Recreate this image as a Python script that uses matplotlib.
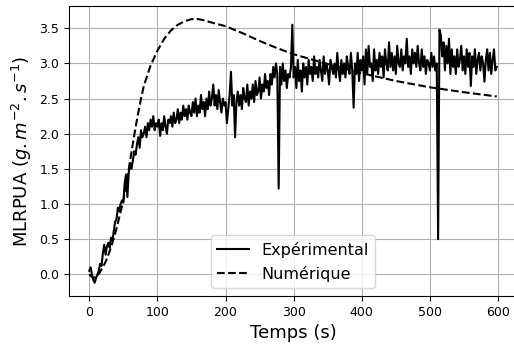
import numpy as np
import matplotlib
matplotlib.use("Agg")
import matplotlib.pyplot as plt

t_exp = np.arange(0, 600, 2)
mlr_exp = [
    0.05, 0.10, 0.00, -0.08, -0.12, -0.05, 0.00, 0.05, 0.15, 0.12,
    0.30, 0.42, 0.28, 0.40, 0.45, 0.38, 0.52, 0.48, 0.62, 0.75,
    0.78, 0.95, 0.90, 1.00, 1.05, 1.02, 1.30, 1.42, 1.10, 1.45,
    1.58, 1.50, 1.62, 1.75, 1.70, 1.85, 1.95, 1.80, 2.05, 1.95,
    2.00, 2.10, 1.95, 2.15, 2.05, 2.20, 2.10, 2.25, 2.05, 2.15,
    2.10, 2.20, 1.97, 2.15, 2.05, 2.25, 2.10, 2.00, 2.20, 2.15,
    2.25, 2.10, 2.30, 2.15, 2.20, 2.35, 2.15, 2.30, 2.20, 2.40,
    2.25, 2.35, 2.20, 2.40, 2.30, 2.25, 2.45, 2.30, 2.50, 2.25,
    2.40, 2.30, 2.55, 2.35, 2.45, 2.25, 2.50, 2.35, 2.60, 2.40,
    2.50, 2.70, 2.40, 2.55, 2.35, 2.62, 2.45, 2.30, 2.50, 2.40,
    2.45, 2.15, 2.35, 2.55, 2.88, 2.40, 2.55, 1.95, 2.45, 2.60,
    2.40, 2.55, 2.35, 2.65, 2.50, 2.45, 2.70, 2.40, 2.60, 2.50,
    2.70, 2.45, 2.75, 2.55, 2.60, 2.80, 2.50, 2.70, 2.60, 2.85,
    2.65, 2.75, 2.55, 2.85, 2.70, 2.95, 2.80, 3.00, 2.85, 1.22,
    2.95, 2.70, 3.00, 2.75, 2.90, 2.65, 2.85, 2.80, 2.95, 3.55,
    2.80, 2.95, 2.65, 3.05, 2.75, 2.90, 2.60, 3.00, 2.80, 2.95,
    2.70, 3.05, 2.85, 2.95, 2.75, 3.10, 2.85, 2.95, 2.80, 3.05,
    2.90, 2.75, 3.10, 2.85, 3.00, 2.90, 2.70, 3.05, 2.95, 2.85,
    3.00, 2.80, 3.15, 2.90, 2.75, 3.05, 2.85, 3.00, 2.80, 3.10,
    2.95, 2.85, 3.15, 2.90, 2.37, 3.00, 2.85, 3.15, 2.75, 3.05,
    2.90, 3.10, 2.70, 3.20, 2.85, 3.25, 2.95, 3.00, 2.75, 3.20,
    2.90, 3.05, 2.85, 3.15, 2.95, 3.10, 2.80, 3.20, 3.00, 2.90,
    3.30, 2.95, 3.15, 2.90, 3.10, 2.85, 3.25, 3.00, 2.95, 3.20,
    2.90, 3.10, 3.00, 3.35, 2.95, 3.10, 2.85, 3.20, 3.00, 3.15,
    2.95, 3.25, 3.00, 2.90, 3.20, 2.95, 3.10, 2.85, 3.05, 3.00,
    2.90, 3.15, 2.95, 3.10, 2.90, 3.00, 0.50, 3.48, 3.40, 3.10,
    3.30, 2.90, 3.25, 3.00, 3.35, 2.85, 3.20, 2.95, 3.10, 2.85,
    3.20, 2.95, 3.05, 3.25, 2.90, 3.10, 2.85, 3.20, 2.95, 3.15,
    2.68, 3.10, 2.95, 3.20, 2.85, 3.05, 3.15, 2.90, 3.10, 3.00,
    2.74, 3.05, 3.20, 2.90, 3.15, 2.85, 3.05, 3.20, 2.90, 2.95,
]

# Numerical MLRPUA
t_num = [0, 5, 10, 15, 20, 25, 30, 35, 40, 45, 50, 55, 60, 65, 70, 75, 80,
         90, 100, 110, 120, 130, 140, 150, 160, 170, 180, 200, 225, 250,
         275, 300, 350, 400, 450, 500, 550, 598]
mlr_num = [0.0, -0.05, -0.04, 0.02, 0.10, 0.20, 0.33, 0.48, 0.65, 0.85,
           1.05, 1.32, 1.62, 1.92, 2.20, 2.45, 2.68, 2.97, 3.18, 3.35,
           3.47, 3.55, 3.60, 3.63, 3.63, 3.61, 3.58, 3.53, 3.43, 3.32,
           3.22, 3.13, 2.99, 2.86, 2.75, 2.66, 2.59, 2.53]

fig = plt.figure(figsize=(5.14, 3.49), dpi=100)
ax = fig.add_axes([0.134, 0.152, 0.872, 0.831])

ax.plot(t_exp, mlr_exp, color='black', linewidth=1.5, label='Expérimental')
ax.plot(t_num, mlr_num, color='black', linestyle='--', linewidth=1.5, label='Numérique')

ax.set_xlabel('Temps (s)', fontsize=13)
ax.set_ylabel('MLRPUA ($g.m^{-2}.s^{-1}$)', fontsize=13)
ax.tick_params(labelsize=9)
ax.set_xticks([0, 100, 200, 300, 400, 500, 600])
ax.set_yticks([0.0, 0.5, 1.0, 1.5, 2.0, 2.5, 3.0, 3.5])
ax.grid(True)
ax.legend(loc='lower center', fontsize=11.5)

fig.savefig('out.png', dpi=100)
